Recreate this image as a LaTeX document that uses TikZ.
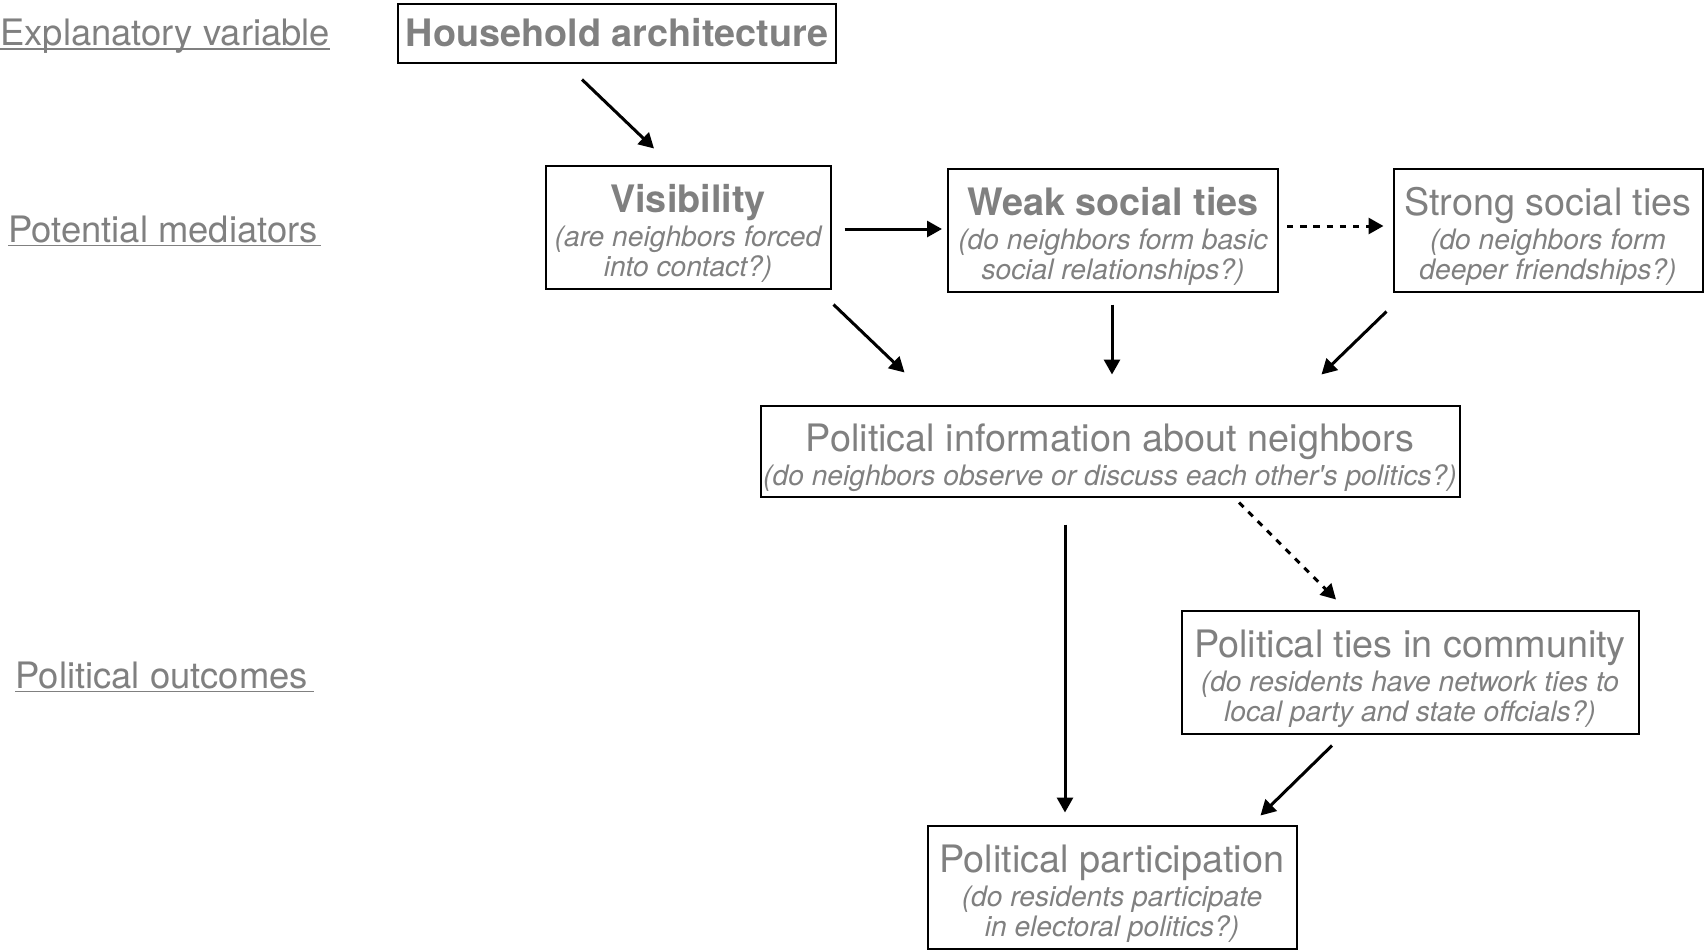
\documentclass[tikz,border=0pt]{standalone}
\usepackage{fontspec}
\setmainfont{TeX Gyre Heros}
\usetikzlibrary{arrows.meta}
\definecolor{figGrey}{HTML}{808080}
\newcommand{\headfont}{\fontsize{18.9}{22}\selectfont\upshape}
\newcommand{\notefont}{\fontsize{14.1}{15.2}\selectfont\itshape}
\newcommand{\rowfont}{\fontsize{18.2}{22}\selectfont}
\newcommand{\rowline}[1]{\setbox0\hbox{#1}\rlap{\rule[-2.2pt]{\wd0}{0.9pt}}\box0}
\newcommand{\boxhead}[1]{{\headfont\rule{0pt}{20.6pt}#1}}

\begin{document}
\begin{tikzpicture}[x=0.5pt, y=-0.5pt,
  every node/.style={align=center, inner sep=0pt, text=figGrey},
  factor/.style={draw=black, line width=1pt, font=\notefont,
                 minimum height=61.5pt},
  rowlabel/.style={anchor=west, font=\rowfont},
  arrow/.style={-{Triangle[length=7.5pt, width=8pt]}, line width=1.5pt},
  dotarrow/.style={arrow, dash pattern=on 3.2pt off 3.4pt},
]
\useasboundingbox (0,0) rectangle (1705,950);

% --- Row labels on the left ------------------------------------------
\node[rowlabel] (explvar)   at (0,36)   {\rowline{Explanatory variable}};
\node[rowlabel] (mediators) at (8,231)  {\rowline{Potential mediators\hspace{1.6pt}}};
\node[rowlabel] (outcomes)  at (15,677) {\rowline{Political outcomes\hspace{3.3pt}}};

% --- Explanatory variable --------------------------------------------
\node[factor, minimum width=219pt, minimum height=29.5pt,
      font=\headfont\bfseries] (house) at (617,33) {Household architecture};

% --- Mediators -------------------------------------------------------
\node[factor, minimum width=142.5pt] (visib) at (688,227)
  {\boxhead{\bfseries Visibility}\\[1.8pt] (are neighbors forced\\ into contact?)};
\node[factor, minimum width=165pt] (weak) at (1113,230)
  {\boxhead{\bfseries Weak social ties}\\[1.8pt] (do neighbors form basic\\ social relationships?)};
\node[factor, minimum width=154.5pt] (strong) at (1548,230)
  {\boxhead{Strong social ties}\\[1.8pt] (do neighbors form\\ deeper friendships?)};
\node[factor, minimum width=349.5pt, minimum height=45.5pt] (info) at (1110,451)
  {\boxhead{Political information about neighbors}\\[1.8pt] (do neighbors observe or discuss each other\textquotesingle s politics?)};

% --- Outcomes --------------------------------------------------------
\node[factor, minimum width=228.5pt] (polties) at (1410,672)
  {\boxhead{Political ties in community}\\[1.8pt] (do residents have network ties to\\ local party and state offcials?)};
\node[factor, minimum width=184.5pt] (partic) at (1112,887)
  {\boxhead{Political participation}\\[1.8pt] (do residents participate\\ in electoral politics?)};

% --- Causal arrows ---------------------------------------------------
\draw[arrow] ([shift={(-35,16)}]house.south) -- ([shift={(-34,-16)}]visib.north);
\draw[arrow] ([shift={(13,2)}]visib.east) -- ([shift={(-5,-1)}]weak.west);
\draw[dotarrow] ([shift={(8,-4)}]weak.east) -- ([shift={(-9,-4)}]strong.west);
\draw[arrow] ([shift={(2,15)}]visib.south east) -- ([shift={(145,-32)}]info.north west);
\draw[arrow] ([shift={(-1,12)}]weak.south) -- ([shift={(2,-30)}]info.north);
\draw[arrow] ([shift={(-6,19)}]strong.south west) -- ([shift={(-139,-30)}]info.north east);
\draw[dotarrow] ([shift={(129,5)}]info.south) -- ([shift={(-74,-10)}]polties.north);
\draw[arrow] ([shift={(-45,27)}]info.south) -- ([shift={(-47,-12)}]partic.north);
\draw[arrow] ([shift={(-78,11)}]polties.south) -- ([shift={(-37,-9)}]partic.north east);
\end{tikzpicture}
\end{document}
